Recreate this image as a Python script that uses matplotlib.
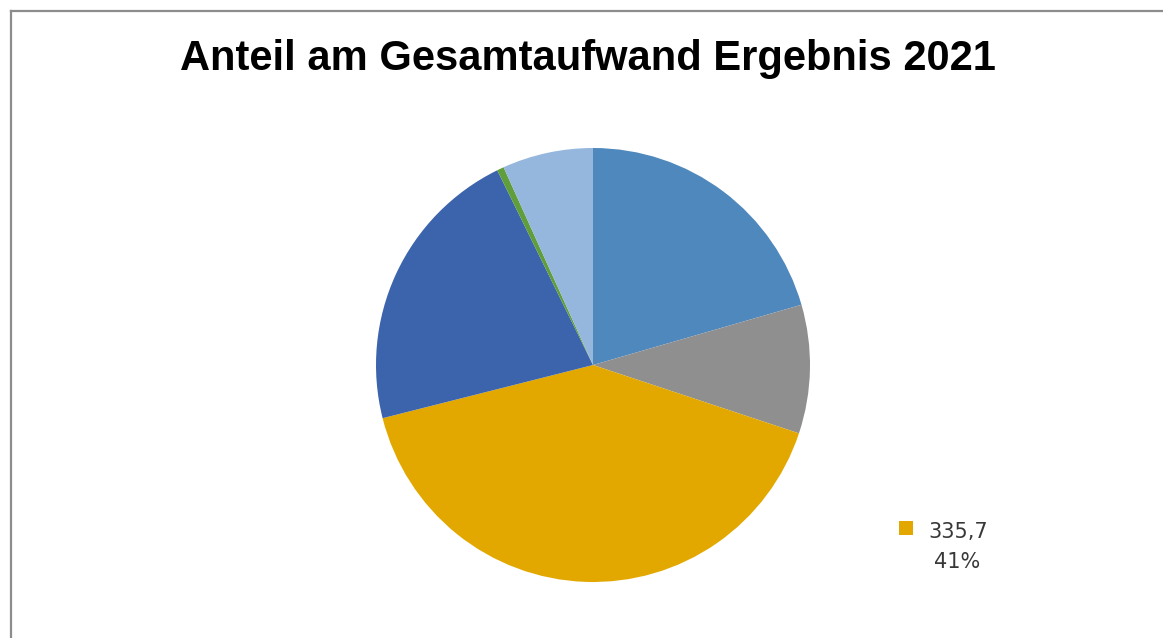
import matplotlib
matplotlib.use("Agg")
import matplotlib.pyplot as plt
from matplotlib.lines import Line2D
from matplotlib.patches import Rectangle

title = "Anteil am Gesamtaufwand Ergebnis 2021"
categories = ["Kategorie 1", "Kategorie 2", "Kategorie 3", "Kategorie 4", "Kategorie 5", "Kategorie 6"]
values = [168.2, 78.5, 335.7, 177.6, 4.2, 55.4]
colors = ["#4F88BC", "#8F8F8F", "#E2A800", "#3C64AC", "#5F9E3A", "#95B7DD"]
label_index = 2

W, H = 1163, 638
fig = plt.figure(figsize=(W / 100, H / 100), dpi=100)
fig.patch.set_facecolor("white")

# border (left, top)
border = "#8C8C8C"
fig.add_artist(Line2D([10.5 / W, 10.5 / W], [0, 1 - 11 / H], color=border, lw=1.6, transform=fig.transFigure))
fig.add_artist(Line2D([10.5 / W, 1], [1 - 11 / H, 1 - 11 / H], color=border, lw=1.6, transform=fig.transFigure))

cx, cy, r = 593, 365, 217
ax = fig.add_axes([(cx - r) / W, 1 - (cy + r) / H, 2 * r / W, 2 * r / H])
ax.pie(values, colors=colors, startangle=90, counterclock=False, radius=1,
       wedgeprops=dict(linewidth=0))
ax.set_xlim(-1, 1)
ax.set_ylim(-1, 1)
ax.set_aspect("equal")
ax.axis("off")

fig.text(588 / W, 1 - 70 / H, title, ha="center", va="baseline",
         fontsize=30, fontweight="bold", family="Liberation Sans", color="black")

total = sum(values)
v = values[label_index]
pct = round(v / total * 100)
lab = f"{v:.1f}".replace(".", ",")
fig.add_artist(Rectangle((899 / W, 1 - 535 / H), 14 / W, 14 / H, transform=fig.transFigure,
                         facecolor=colors[label_index], edgecolor="none"))
fig.text(958 / W, 1 - 538 / H, lab, ha="center", va="baseline", fontsize=15,
         family="DejaVu Sans", color="#383838")
fig.text(957 / W, 1 - 568 / H, f"{pct}%", ha="center", va="baseline", fontsize=15,
         family="DejaVu Sans", color="#383838")

fig.savefig("out.png", dpi=100, facecolor="white")
